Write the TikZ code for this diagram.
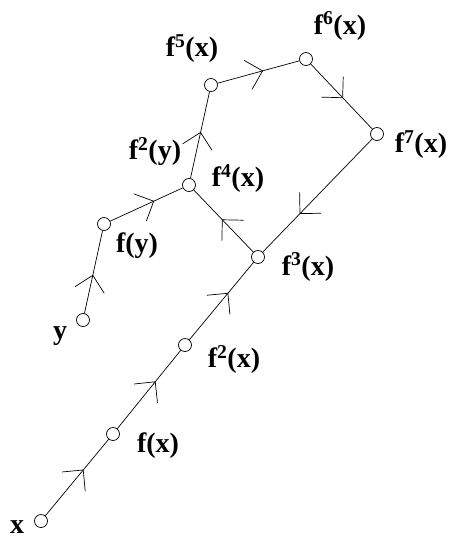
\documentclass[tikz,border=0pt]{standalone}
\usepackage{fontspec}
\setmainfont{Liberation Serif}
\usetikzlibrary{decorations.markings}
\begin{document}
\begin{tikzpicture}[x=1pt,y=-1pt,
  pt/.style={circle,draw,inner sep=0pt,minimum size=13pt,line width=0.7pt},
  lbl/.style={font=\bfseries\fontsize{28}{30}\selectfont,inner sep=0pt},
  edge/.style={line width=0.7pt, postaction={decorate},
    decoration={markings, mark=at position #1 with {\draw[line width=0.7pt] (-15pt,15pt) -- (0pt,0pt) -- (-15pt,-15pt);}}},
  edge/.default=0.58]
\useasboundingbox (0,0) rectangle (449,539);
% points
\node[pt] (x)   at (41,521) {};
\node[pt] (fx)  at (113,434) {};
\node[pt] (f2x) at (185,345) {};
\node[pt] (f3x) at (258,257) {};
\node[pt] (f4x) at (189,185) {};
\node[pt] (f5x) at (211,85) {};
\node[pt] (f6x) at (306,59) {};
\node[pt] (f7x) at (377,134) {};
\node[pt] (y)   at (83,320) {};
\node[pt] (fy)  at (104,224) {};
% labels
\node[lbl] (lx)   at (17,527) {x};
\node[lbl] (lfx)  at (158,446) {f(x)};
\node[lbl] (lf2x) at (234,359) {f\textsuperscript{2}(x)};
\node[lbl] (lf3x) at (308,267) {f\textsuperscript{3}(x)};
\node[lbl] (lf4x) at (238,179) {f\textsuperscript{4}(x)};
\node[lbl] (lf2y) at (155,152) {f\textsuperscript{2}(y)};
\node[lbl] (lf5x) at (192,49) {f\textsuperscript{5}(x)};
\node[lbl] (lf6x) at (340,26) {f\textsuperscript{6}(x)};
\node[lbl] (lf7x) at (421,145) {f\textsuperscript{7}(x)};
\node[lbl] (lfy)  at (137,246) {f(y)};
\node[lbl] (ly)   at (60,336) {y};
% connectors
\draw[edge=0.6]  (x) -- (fx);
\draw[edge=0.6]  (fx) -- (f2x);
\draw[edge=0.6]  (f2x) -- (f3x);
\draw[edge=0.52] (f3x) -- (f4x);
\draw[edge=0.53] (f4x) -- (f5x);
\draw[edge=0.55] (f5x) -- (f6x);
\draw[edge=0.52] (f6x) -- (f7x);
\draw[edge=0.66] (f7x) -- (f3x);
\draw[edge=0.46] (y) -- (fy);
\draw[edge=0.6]  (fy) -- (f4x);
\end{tikzpicture}
\end{document}
